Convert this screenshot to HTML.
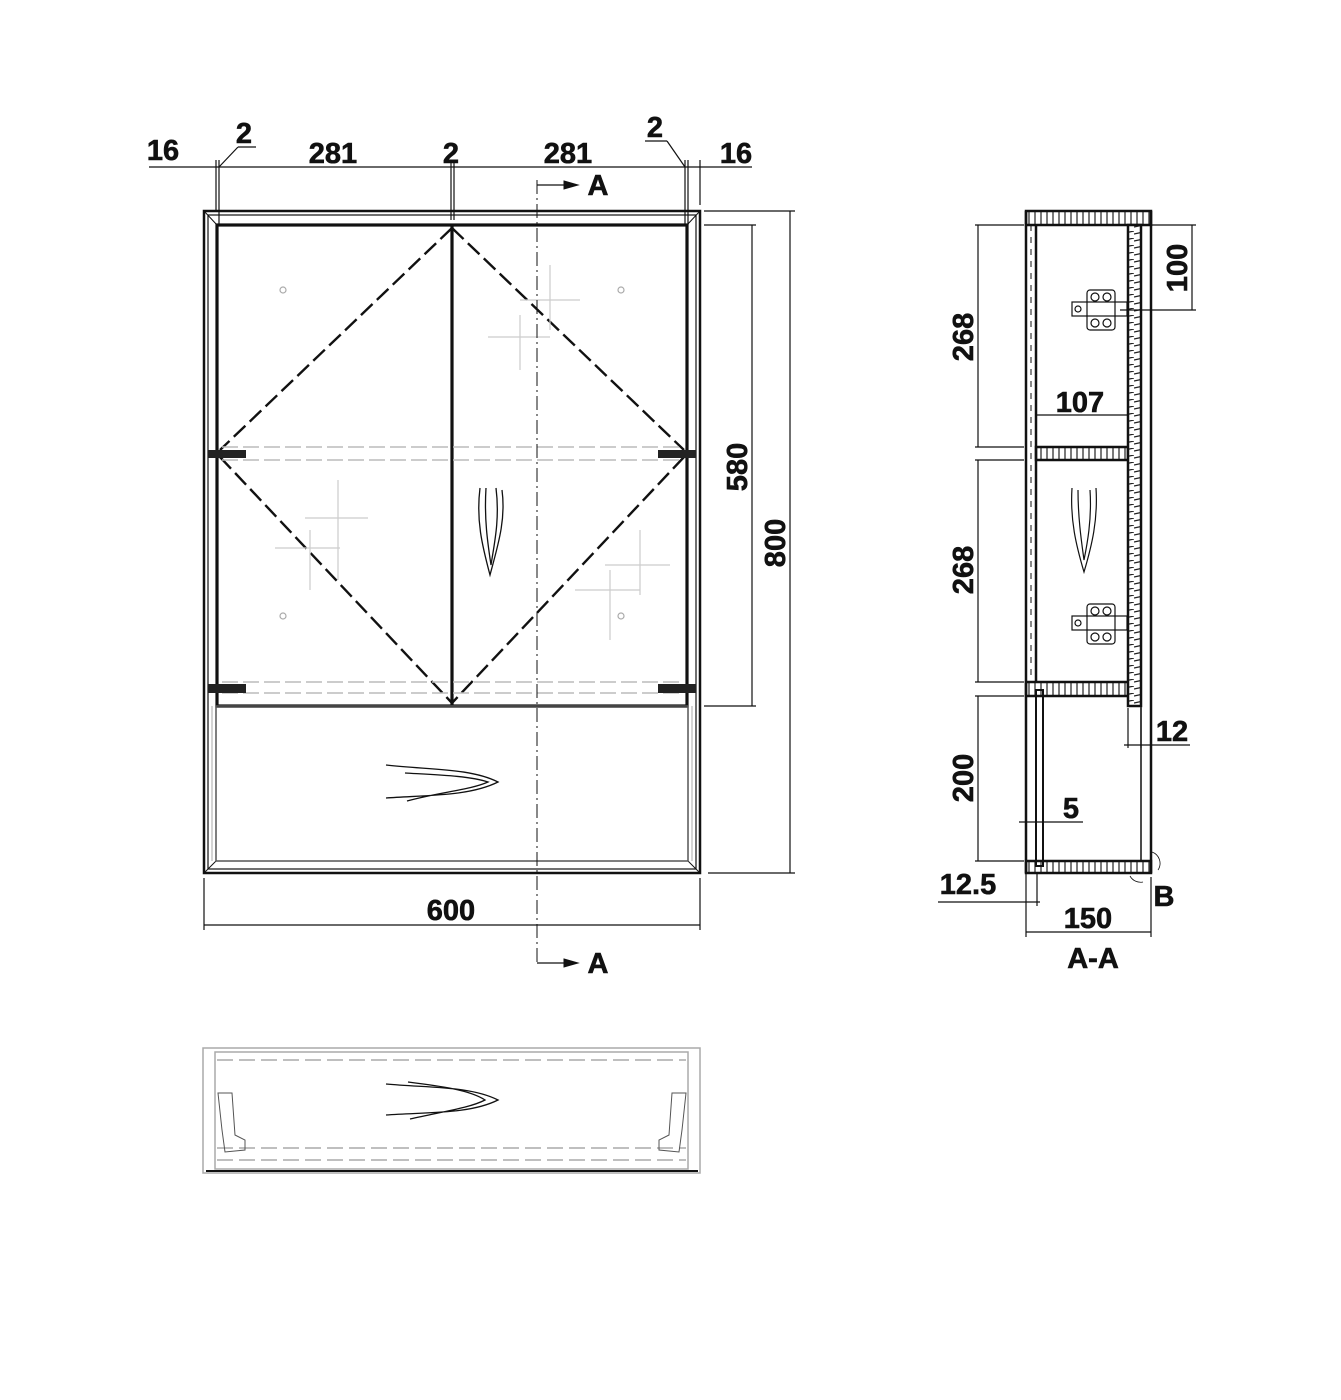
<!DOCTYPE html>
<html><head><meta charset="utf-8"><style>
html,body{margin:0;padding:0;background:#fff}
svg{display:block}
text{font-family:"Liberation Sans Narrow","Liberation Sans",sans-serif;font-weight:bold;font-size:29px;fill:#111;stroke:#111;stroke-width:0.6;text-anchor:middle}
</style></head><body>
<svg width="1341" height="1400" viewBox="0 0 1341 1400" xmlns="http://www.w3.org/2000/svg">
<defs>
<pattern id="h" width="6" height="14" patternUnits="userSpaceOnUse"><rect width="6" height="14" fill="#fff"/><line x1="3" y1="0" x2="3" y2="14" stroke="#222" stroke-width="1.2"/></pattern>
<pattern id="hv" width="14" height="7" patternUnits="userSpaceOnUse"><rect width="14" height="7" fill="#fff"/><line x1="0" y1="3" x2="14" y2="0" stroke="#222" stroke-width="1.2"/></pattern>
</defs>
<g stroke="#111" fill="none">
<rect x="204" y="211" width="496" height="662" stroke-width="2.5"/>
<rect x="208" y="215" width="488" height="654" stroke-width="1.2"/>
<line x1="204" y1="211" x2="217" y2="225" stroke-width="1"/>
<line x1="700" y1="211" x2="687" y2="225" stroke-width="1"/>
<line x1="204" y1="873" x2="216" y2="861" stroke-width="1"/>
<line x1="700" y1="873" x2="688" y2="861" stroke-width="1"/>
<rect x="217" y="225" width="470" height="481" stroke-width="3.2"/>
<line x1="452" y1="225" x2="452" y2="706" stroke-width="3.2"/>
<rect x="216" y="706" width="472" height="155" stroke-width="1.5" stroke="#555"/>
<line x1="212" y1="706" x2="212" y2="861" stroke="#aaa"/>
<line x1="692" y1="706" x2="692" y2="861" stroke="#aaa"/>
<g stroke-dasharray="16,6" stroke-width="2.4">
<line x1="452" y1="228" x2="220" y2="450"/>
<line x1="220" y1="457" x2="452" y2="703"/>
<line x1="452" y1="228" x2="684" y2="450"/>
<line x1="684" y1="457" x2="452" y2="703"/>
</g>
<g stroke="#bbb" stroke-dasharray="16,5" stroke-width="1.5">
<line x1="222" y1="447" x2="684" y2="447"/><line x1="222" y1="460" x2="684" y2="460"/>
<line x1="222" y1="682" x2="684" y2="682"/><line x1="222" y1="693" x2="684" y2="693"/>
</g>
<g stroke="#ccc" stroke-width="1.2">
<line x1="550" y1="265" x2="550" y2="330"/><line x1="520" y1="300" x2="580" y2="300"/>
<line x1="520" y1="315" x2="520" y2="370"/><line x1="488" y1="337" x2="550" y2="337"/>
<line x1="338" y1="480" x2="338" y2="580"/><line x1="305" y1="518" x2="368" y2="518"/>
<line x1="310" y1="530" x2="310" y2="590"/><line x1="275" y1="548" x2="340" y2="548"/>
<line x1="640" y1="530" x2="640" y2="595"/><line x1="605" y1="565" x2="670" y2="565"/>
<line x1="610" y1="570" x2="610" y2="640"/><line x1="575" y1="590" x2="640" y2="590"/>
</g>
<g stroke="#aaa" stroke-width="1.2"><circle cx="283" cy="290" r="3"/><circle cx="621" cy="290" r="3"/><circle cx="283" cy="616" r="3"/><circle cx="621" cy="616" r="3"/></g>
<g fill="#222" stroke="none">
<rect x="208" y="450" width="38" height="8"/><rect x="658" y="450" width="38" height="8"/>
<rect x="208" y="684" width="38" height="9"/><rect x="658" y="684" width="38" height="9"/>
</g>
<path d="M480 488 C476 520 482 545 490 575 C498 545 506 520 502 490 M486 488 C484 520 488 545 491 565 C494 545 500 520 496 488" stroke-width="1.3"/>
<path d="M386 765 C430 770 470 768 498 782 C470 796 430 795 386 798 M405 773 C440 775 470 776 488 782 C470 790 440 792 407 801" stroke-width="1.3"/>
<g stroke-width="1.2">
<line x1="149" y1="167" x2="752" y2="167"/>
<line x1="216" y1="160" x2="216" y2="210"/><line x1="219" y1="160" x2="219" y2="225"/>
<line x1="451" y1="160" x2="451" y2="220"/><line x1="454" y1="160" x2="454" y2="220"/>
<line x1="685" y1="160" x2="685" y2="225"/><line x1="688" y1="160" x2="688" y2="225"/>
<line x1="700" y1="160" x2="700" y2="205"/>
<line x1="219" y1="167" x2="238" y2="147"/><line x1="238" y1="147" x2="256" y2="147"/>
<line x1="685" y1="167" x2="667" y2="141"/><line x1="667" y1="141" x2="645" y2="141"/>
<line x1="704" y1="225" x2="756" y2="225"/><line x1="704" y1="706" x2="756" y2="706"/>
<line x1="752" y1="225" x2="752" y2="706"/>
<line x1="704" y1="211" x2="795" y2="211"/><line x1="708" y1="873" x2="795" y2="873"/>
<line x1="790" y1="211" x2="790" y2="873"/>
<line x1="204" y1="878" x2="204" y2="930"/><line x1="700" y1="878" x2="700" y2="930"/>
<line x1="204" y1="925" x2="700" y2="925"/>
</g>
<line x1="537" y1="180" x2="537" y2="965" stroke-width="1" stroke-dasharray="14,4,2,4"/>
<line x1="537" y1="185" x2="570" y2="185" stroke-width="1.2"/>
<line x1="537" y1="963" x2="570" y2="963" stroke-width="1.2"/>
<path d="M564 181 L578 185 L564 189Z M564 959 L578 963 L564 967Z" fill="#111"/>
<rect x="1026" y="211" width="125" height="14" fill="url(#h)" stroke-width="2.5"/>
<rect x="1036" y="447" width="92" height="13" fill="url(#h)" stroke-width="2.5"/>
<rect x="1026" y="682" width="102" height="14" fill="url(#h)" stroke-width="2.5"/>
<rect x="1026" y="861" width="125" height="12" fill="url(#h)" stroke-width="2.5"/>
<rect x="1128" y="225" width="13" height="481" fill="url(#hv)" stroke-width="2.5"/>
<line x1="1026" y1="211" x2="1026" y2="873" stroke-width="2.5"/>
<line x1="1036" y1="225" x2="1036" y2="682" stroke-width="2.5"/>
<line x1="1031" y1="225" x2="1031" y2="682" stroke-width="1" stroke-dasharray="6,6"/>
<line x1="1151" y1="211" x2="1151" y2="873" stroke-width="2.5"/>
<line x1="1141" y1="706" x2="1141" y2="861" stroke-width="1.5"/>
<rect x="1036" y="690" width="7" height="176" stroke-width="2"/>
<line x1="1036" y1="415" x2="1128" y2="415" stroke-width="1.2"/>
<line x1="1036" y1="415" x2="1036" y2="447" stroke-width="1"/>
<g stroke-width="1.2">
<rect x="1087" y="290" width="28" height="40" rx="3"/><rect x="1087" y="604" width="28" height="40" rx="3"/>
<rect x="1072" y="302" width="55" height="14"/><rect x="1072" y="616" width="55" height="14"/>
<circle cx="1095" cy="297" r="4"/><circle cx="1107" cy="297" r="4"/><circle cx="1095" cy="323" r="4"/><circle cx="1107" cy="323" r="4"/>
<circle cx="1095" cy="611" r="4"/><circle cx="1107" cy="611" r="4"/><circle cx="1095" cy="637" r="4"/><circle cx="1107" cy="637" r="4"/>
<circle cx="1078" cy="309" r="3"/><circle cx="1078" cy="623" r="3"/>
</g>
<path d="M1072 488 C1070 520 1076 545 1084 572 C1092 545 1098 520 1096 488 M1078 490 C1078 520 1082 545 1084 560 C1087 545 1092 520 1090 490" stroke-width="1.2"/>
<g stroke-width="1.2">
<line x1="975" y1="225" x2="1024" y2="225"/><line x1="975" y1="447" x2="1024" y2="447"/>
<line x1="975" y1="460" x2="1024" y2="460"/><line x1="975" y1="682" x2="1024" y2="682"/>
<line x1="975" y1="696" x2="1024" y2="696"/><line x1="975" y1="861" x2="1024" y2="861"/>
<line x1="978" y1="225" x2="978" y2="447"/><line x1="978" y1="460" x2="978" y2="682"/><line x1="978" y1="696" x2="978" y2="861"/>
<line x1="1151" y1="225" x2="1196" y2="225"/><line x1="1120" y1="310" x2="1196" y2="310"/>
<line x1="1192" y1="225" x2="1192" y2="310"/>
<line x1="1128" y1="708" x2="1128" y2="748"/><line x1="1141" y1="708" x2="1141" y2="748"/>
<line x1="1124" y1="745" x2="1190" y2="745"/>
<line x1="1019" y1="822" x2="1083" y2="822"/>
<line x1="938" y1="902" x2="1040" y2="902"/>
<line x1="1026" y1="873" x2="1026" y2="937"/><line x1="1037" y1="873" x2="1037" y2="906"/>
<line x1="1151" y1="877" x2="1151" y2="937"/>
<line x1="1026" y1="932" x2="1151" y2="932"/>
</g>
<path d="M1152 852 A12 12 0 0 1 1158 870 M1130 876 A12 12 0 0 0 1143 882" stroke-width="0.8"/>
<g stroke="#aaa" stroke-width="1.5">
<rect x="203" y="1048" width="497" height="125"/>
<rect x="215" y="1052" width="473" height="117"/>
<line x1="217" y1="1060" x2="686" y2="1060" stroke-dasharray="16,6"/>
<line x1="217" y1="1148" x2="686" y2="1148" stroke-dasharray="16,6"/>
<line x1="217" y1="1160" x2="686" y2="1160" stroke-dasharray="16,6"/>
</g>
<line x1="206" y1="1171" x2="698" y2="1171" stroke-width="2"/>
<path d="M386 1084 C430 1088 470 1086 498 1100 C470 1114 430 1112 386 1115 M408 1082 C440 1086 470 1090 485 1100 C470 1108 440 1112 410 1119" stroke-width="1.3"/>
<path d="M218 1093 L232 1093 L235 1135 L245 1140 L245 1150 L225 1152 L222 1130 Z" stroke="#555" stroke-width="1"/>
<path d="M686 1093 L672 1093 L669 1135 L659 1140 L659 1150 L679 1152 L682 1130 Z" stroke="#555" stroke-width="1"/>
</g>
<text x="163" y="160">16</text>
<text x="244" y="143">2</text>
<text x="333" y="163">281</text>
<text x="451" y="163">2</text>
<text x="568" y="163">281</text>
<text x="655" y="137">2</text>
<text x="736" y="163">16</text>
<text x="598" y="195" font-size="26">A</text>
<text x="598" y="973" font-size="26">A</text>
<text x="451" y="920">600</text>
<text transform="translate(747,467) rotate(-90)">580</text>
<text transform="translate(785,543) rotate(-90)">800</text>
<text transform="translate(973,337) rotate(-90)">268</text>
<text transform="translate(973,570) rotate(-90)">268</text>
<text transform="translate(973,778) rotate(-90)">200</text>
<text transform="translate(1187,268) rotate(-90)">100</text>
<text x="1080" y="412">107</text>
<text x="1172" y="741">12</text>
<text x="1071" y="818">5</text>
<text x="968" y="894">12.5</text>
<text x="1088" y="928">150</text>
<text x="1093" y="968">A-A</text>
<text x="1164" y="906" font-size="26">B</text>
</svg>
</body></html>
